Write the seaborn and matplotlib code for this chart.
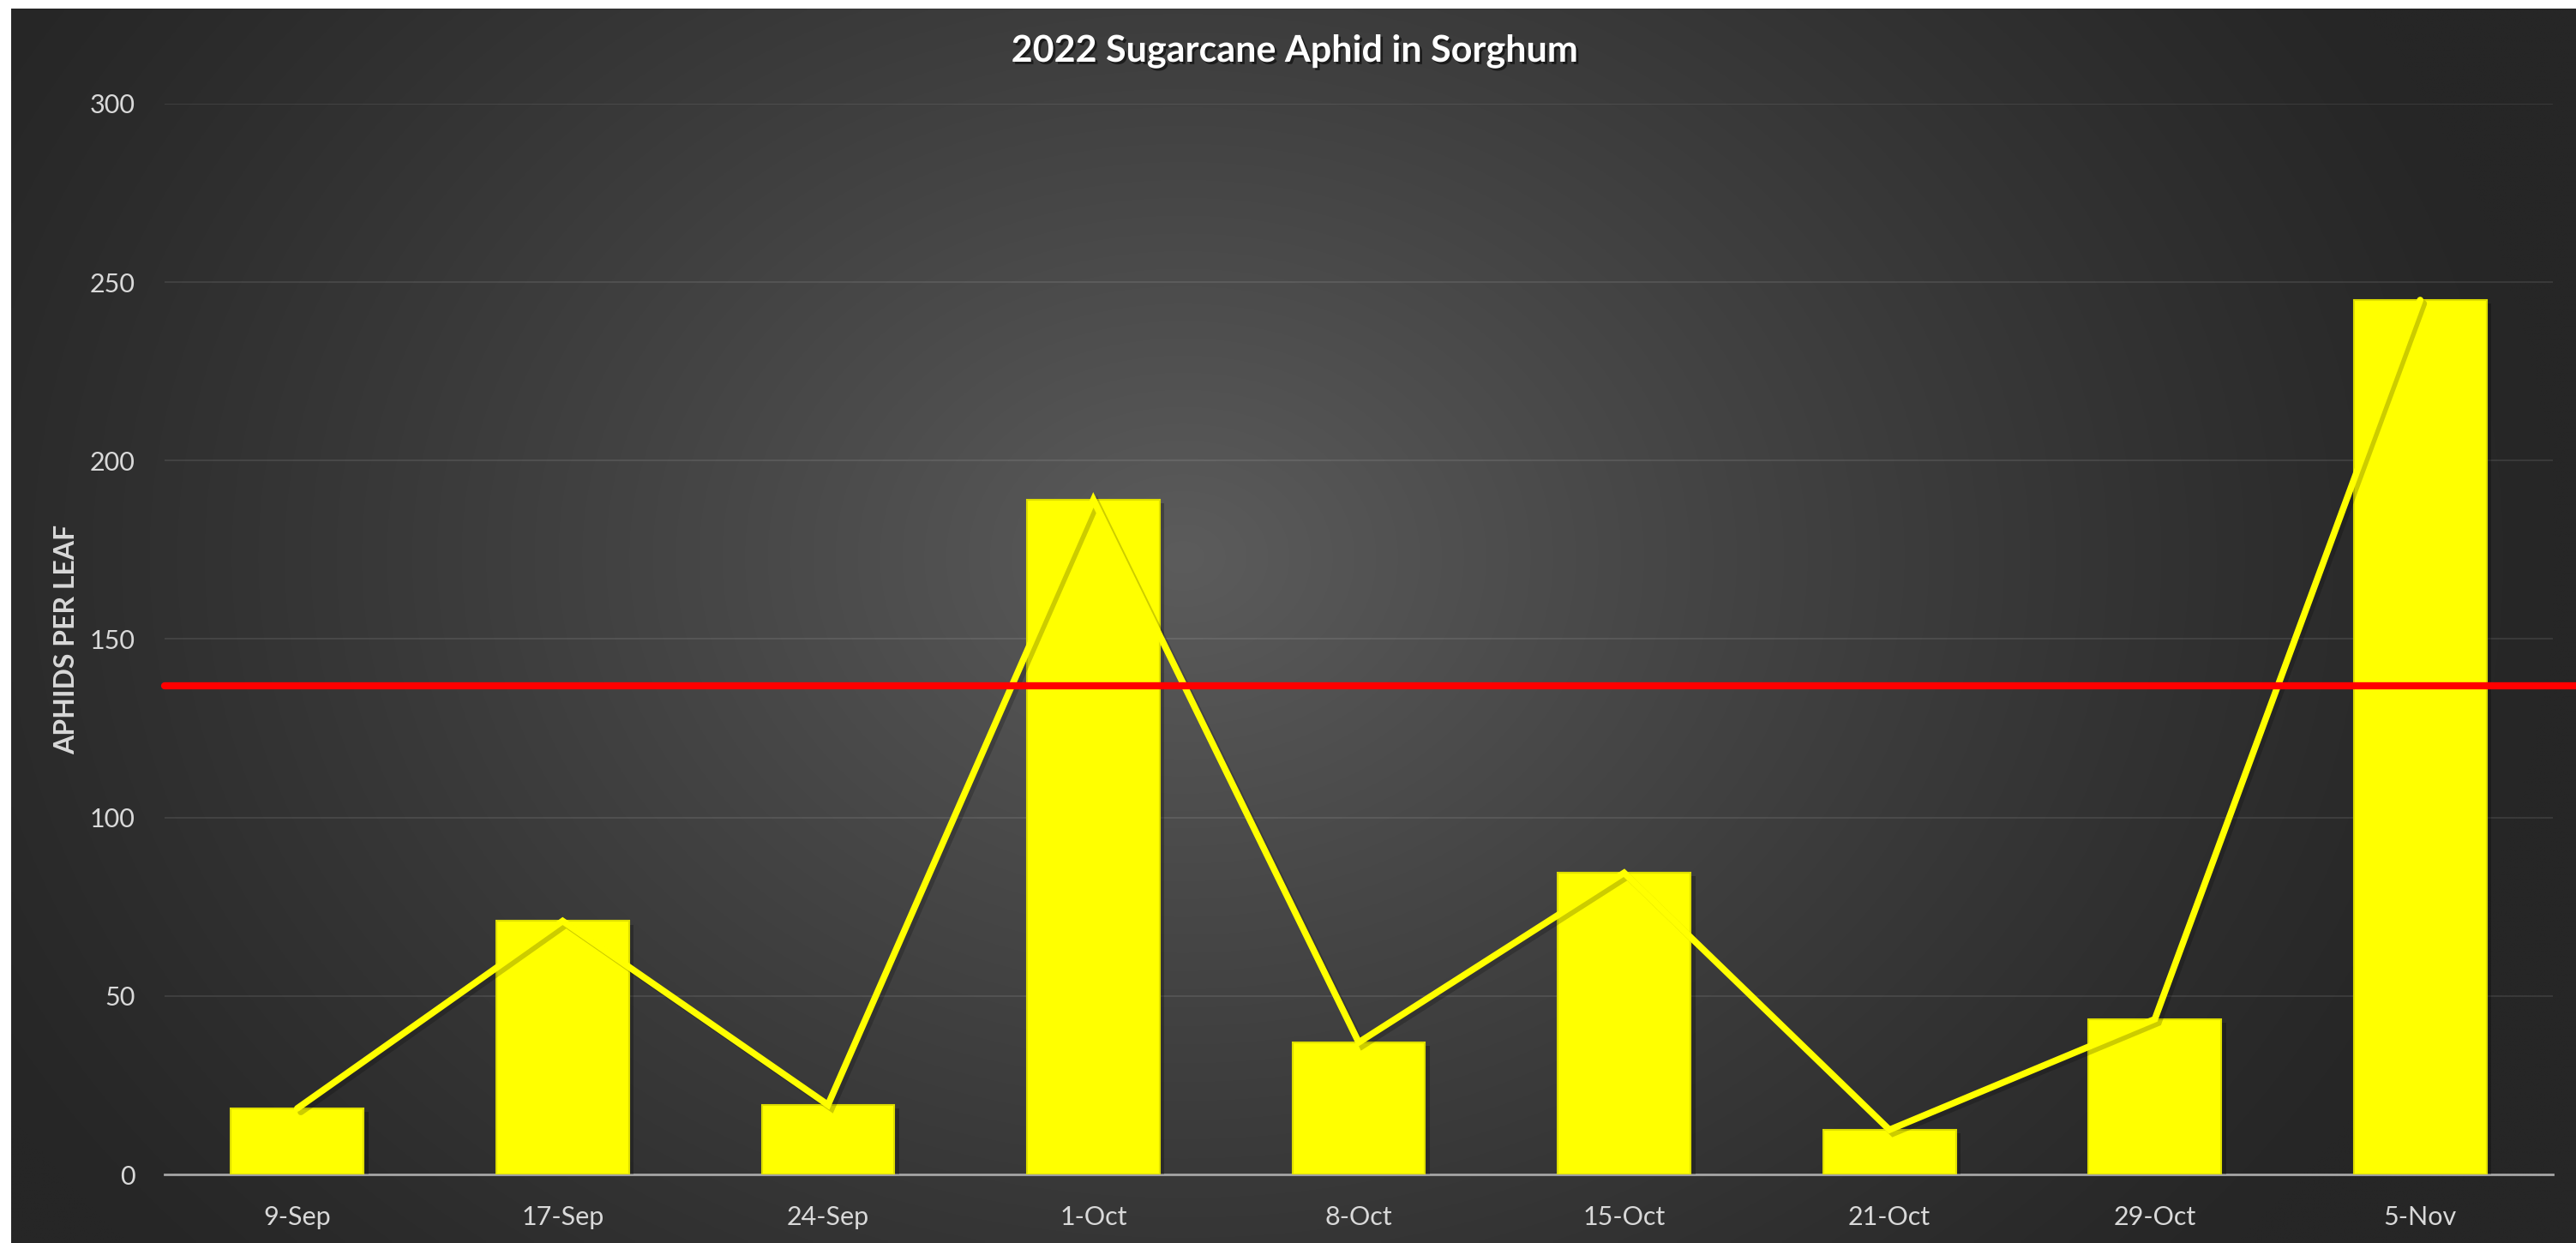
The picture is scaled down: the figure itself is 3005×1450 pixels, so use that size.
import numpy as np
import matplotlib
matplotlib.use("Agg")
import matplotlib.pyplot as plt
import matplotlib.patheffects as pe
import seaborn as sns
import pandas as pd

# Weekly scouting counts
dates = ["9-Sep", "17-Sep", "24-Sep", "1-Oct", "8-Oct", "15-Oct", "21-Oct", "29-Oct", "5-Nov"]
aphids_per_leaf = [18.5, 71, 19.5, 189, 37, 84.5, 12.5, 43.5, 245]
threshold = 137
y_ticks = [0, 50, 100, 150, 200, 250, 300]
title = "2022 Sugarcane Aphid in Sorghum"
y_label = "APHIDS PER LEAF"

sns.set_theme(style="dark")
plt.rcParams["font.family"] = ["Lato", "DejaVu Sans"]

W, H, DPI = 3005, 1450, 100
fig = plt.figure(figsize=(W / DPI, H / DPI), dpi=DPI, facecolor="white")

# Dark panel with a soft radial gradient
bg = fig.add_axes([13 / W, 0, 1 - 13 / W, (H - 10) / H])
nx, ny = 600, 290
xs = np.linspace(13, W, nx)
ys = np.linspace(10, H, ny)
X, Y = np.meshgrid(xs, ys)
r = np.hypot((X - 1380) / 1600, (Y - 650) / 1250)
t = np.clip(1 - r, 0, 1) ** 1.2
g = (38 + (92 - 38) * t) / 255
bg.imshow(np.dstack([g, g, g]), aspect="auto", interpolation="bilinear",
          extent=(0, 1, 0, 1), origin="upper")
bg.set_xlim(0, 1)
bg.set_ylim(0, 1)
bg.set_axis_off()

# Main chart
ax = fig.add_axes([192 / W, 80 / H, (2978 - 192) / W, (1370 - 121) / H])
ax.patch.set_alpha(0)

df = pd.DataFrame({"date": dates, "aphids": aphids_per_leaf})

sns.barplot(data=df, x="date", y="aphids", color="#ffff00", saturation=1,
            width=0.5, edgecolor="#dede00", linewidth=1.5, ax=ax, zorder=2)
for bar in ax.patches:
    bar.set_path_effects([
        pe.SimplePatchShadow(offset=(4, -3), shadow_rgbFace="black", alpha=0.25),
        pe.Normal(),
    ])

sns.pointplot(data=df, x="date", y="aphids", color="#ffff00", errorbar=None,
              marker="", linestyle="-", linewidth=5.5, ax=ax)
trend = ax.lines[-1]
trend.set_zorder(3)
trend.set_solid_joinstyle("miter")
trend.set_path_effects([
    pe.SimpleLineShadow(offset=(3, -3), shadow_color="black", alpha=0.2),
    pe.Normal(),
])

# Economic threshold line
ax.axhline(threshold, xmin=0, xmax=(W - 192) / (2978 - 192), color="#ff0000",
           lw=6, clip_on=False, zorder=4)

ax.set_xlim(-0.5, len(dates) - 0.5)
ax.set_ylim(0, 300)
ax.set_yticks(y_ticks)
ax.yaxis.grid(True, color="white", alpha=0.09, lw=1.5)
ax.xaxis.grid(False)
ax.set_axisbelow(True)

for side in ["top", "right", "left"]:
    ax.spines[side].set_visible(False)
ax.spines["bottom"].set_color("#a6a6a6")
ax.spines["bottom"].set_linewidth(2)
ax.spines["bottom"].set_zorder(1)

ax.tick_params(axis="both", length=0, labelsize=22, colors="#d9d9d9")
ax.tick_params(axis="x", pad=26)
ax.tick_params(axis="y", pad=25)

ax.set_xlabel("")
ax.set_ylabel(y_label, fontsize=23, fontweight="bold", color="#d9d9d9")
ax.yaxis.set_label_coords(-0.036, 0.5)

fig.text(1510 / W, 1 - 72 / H, title, ha="center", va="baseline",
         fontsize=31, fontweight="bold", color="white",
         path_effects=[pe.withSimplePatchShadow(offset=(2, -2),
                                                shadow_rgbFace="black",
                                                alpha=0.55)])

fig.savefig("out.png", dpi=DPI, facecolor="white")
